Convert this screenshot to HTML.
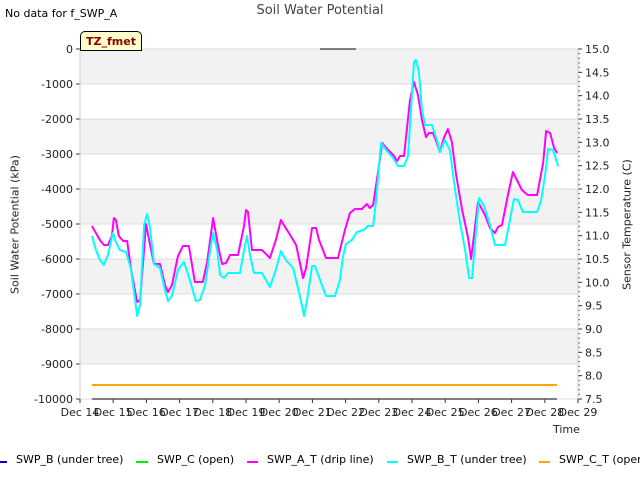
<!DOCTYPE html>
<html><head><meta charset="utf-8"><style>
body{margin:0;background:#fff;font-family:"DejaVu Sans","Liberation Sans",sans-serif}
svg text{font-family:"DejaVu Sans","Liberation Sans",sans-serif}
.lg{position:absolute;height:2px;top:461px}
.lt{position:absolute;top:453px;font-size:11px;color:#000;white-space:nowrap}
</style></head><body>
<svg id="c" width="640" height="480"></svg>
<script>
const dayLabels=["Dec 14","Dec 15","Dec 16","Dec 17","Dec 18","Dec 19","Dec 20","Dec 21","Dec 22","Dec 23","Dec 24","Dec 25","Dec 26","Dec 27","Dec 28","Dec 29"];
const leftTicks=[0,-1000,-2000,-3000,-4000,-5000,-6000,-7000,-8000,-9000,-10000];
const rightTicks=[15.0,14.5,14.0,13.5,13.0,12.5,12.0,11.5,11.0,10.5,10.0,9.5,9.0,8.5,8.0,7.5];
const aDays=[0.36,0.60,0.72,0.84,0.96,1.02,1.08,1.17,1.30,1.42,1.54,1.72,1.81,1.99,2.11,2.23,2.41,2.56,2.65,2.77,2.95,3.10,3.28,3.46,3.70,3.83,4.01,4.16,4.28,4.40,4.52,4.76,4.94,5.00,5.06,5.18,5.48,5.72,5.90,6.05,6.14,6.33,6.51,6.72,6.81,6.99,7.11,7.20,7.41,7.77,7.98,8.13,8.28,8.49,8.64,8.73,8.83,9.04,9.10,9.28,9.46,9.55,9.64,9.76,9.94,10.06,10.18,10.30,10.42,10.51,10.63,10.75,10.84,10.96,11.08,11.20,11.33,11.51,11.69,11.78,11.90,11.99,12.20,12.35,12.50,12.59,12.71,12.89,13.04,13.16,13.31,13.49,13.77,13.95,14.04,14.16,14.28,14.37];
const aVals=[-5057,-5457,-5600,-5600,-5343,-4829,-4886,-5343,-5486,-5486,-6314,-7229,-7171,-5000,-5600,-6143,-6143,-6743,-6943,-6743,-5914,-5629,-5629,-6657,-6657,-6086,-4829,-5629,-6143,-6114,-5886,-5886,-5057,-4600,-4657,-5743,-5743,-5971,-5457,-4886,-5029,-5314,-5600,-6543,-6257,-5114,-5114,-5457,-5971,-5971,-5171,-4686,-4571,-4571,-4429,-4543,-4457,-3114,-2686,-2886,-3057,-3200,-3057,-3057,-1457,-943,-1314,-2029,-2514,-2400,-2400,-2686,-2943,-2543,-2286,-2657,-3600,-4600,-5400,-6000,-5057,-4371,-4743,-5114,-5257,-5086,-5029,-4171,-3514,-3743,-4029,-4171,-4171,-3257,-2343,-2400,-2829,-2971];
const bDays=[0.36,0.48,0.60,0.72,0.84,0.99,1.08,1.20,1.39,1.54,1.66,1.72,1.81,1.93,2.02,2.11,2.23,2.41,2.56,2.65,2.77,2.95,3.13,3.31,3.49,3.61,3.77,3.92,4.01,4.13,4.22,4.34,4.46,4.82,4.94,5.03,5.12,5.24,5.48,5.72,5.90,6.05,6.20,6.42,6.63,6.75,6.84,6.99,7.08,7.23,7.41,7.68,7.83,7.92,8.01,8.19,8.34,8.55,8.67,8.83,8.92,9.01,9.07,9.22,9.43,9.58,9.76,9.88,9.97,10.06,10.12,10.21,10.30,10.39,10.60,10.75,10.84,10.99,11.14,11.30,11.45,11.60,11.72,11.81,11.93,12.02,12.17,12.35,12.50,12.80,12.95,13.07,13.19,13.34,13.77,13.89,14.01,14.10,14.25,14.40];
const bVals=[-5343,-5743,-6029,-6171,-5886,-5257,-5514,-5743,-5800,-6314,-7171,-7629,-7314,-5029,-4714,-5114,-6143,-6257,-6886,-7200,-7057,-6314,-6086,-6600,-7200,-7171,-6743,-5743,-5257,-5743,-6457,-6543,-6400,-6400,-5743,-5343,-5886,-6400,-6400,-6800,-6314,-5771,-6029,-6257,-7086,-7629,-7171,-6200,-6200,-6600,-7057,-7057,-6600,-5943,-5571,-5457,-5229,-5171,-5057,-5057,-4314,-3314,-2686,-2886,-3114,-3343,-3343,-3057,-1743,-371,-314,-657,-1743,-2171,-2171,-2600,-2943,-2600,-2886,-4029,-4971,-5743,-6543,-6543,-5171,-4257,-4486,-5029,-5600,-5600,-4886,-4286,-4314,-4657,-4657,-4314,-3600,-2857,-2886,-3343];
const cTempDays=[0.36,14.37];
const cTempVals=[7.8,7.8];
const bSwpDays=[0.36,14.37];
const bSwpVals=[-10000,-10000];

const X0=80,X1=578,Y0=49,Y1=399;
const xs=d=>X0+d*(X1-X0)/15;
const ys=v=>Y0+(0-v)*(Y1-Y0)/10000;
const yr=t=>Y0+(15-t)*(Y1-Y0)/7.5;
const svg=document.getElementById('c');
const NS='http://www.w3.org/2000/svg';
function mk(tag,at,parent){const e=document.createElementNS(NS,tag);for(const k in at)e.setAttribute(k,at[k]);(parent||svg).appendChild(e);return e;}
const bg=mk('rect',{x:X0,y:Y0,width:X1-X0,height:Y1-Y0,fill:'#fff'});


for(let i=0;i<10;i+=2){
 const b=mk('rect',{x:X0,y:ys(-i*1000),width:X1-X0,height:ys(-(i+1)*1000)-ys(-i*1000),fill:'#f2f2f2'});
 
 
}
leftTicks.forEach(v=>{
 const g=mk('line',{x1:X0,x2:X1,y1:ys(v),y2:ys(v),stroke:'#dcdcdc','stroke-width':1});
 
 
 mk('line',{x1:X0-4,x2:X0,y1:ys(v),y2:ys(v),stroke:'#333'});
 const t=mk('text',{x:X0-7,y:ys(v)+4,'text-anchor':'end','font-size':11,fill:'#222'});
 t.textContent=v;
 
 
});
dayLabels.forEach((l,i)=>{
 mk('line',{x1:xs(i),x2:xs(i),y1:Y1,y2:Y1+4,stroke:'#333'});
 const t=mk('text',{x:xs(i),y:Y1+17,'text-anchor':'middle','font-size':11,fill:'#222'});
 t.textContent=l;
 
 
});
rightTicks.forEach(v=>{
 mk('line',{x1:X1,x2:X1+4,y1:yr(v),y2:yr(v),stroke:'#333'});
 const t=mk('text',{x:X1+7,y:yr(v)+4,'font-size':11,fill:'#222'});
 t.textContent=v.toFixed(1);
 
 
});
for(let v=7.5;v<=15.001;v+=0.1){mk('line',{x1:X1,x2:X1+2,y1:yr(v),y2:yr(v),stroke:'#333','stroke-width':0.8});}
mk('line',{x1:X0,x2:X0,y1:Y0,y2:Y1,stroke:'#ccc'});
mk('line',{x1:X1,x2:X1,y1:Y0,y2:Y1,stroke:'#ccc'});
function line(dx,dy,fx,fy,col,name,w){
 const p=mk('polyline',{points:dx.map((d,i)=>xs(d)+','+fy(dy[i])).join(' '),fill:'none',stroke:col,'stroke-width':w||2,'stroke-linejoin':'round'});
 
 
}
line(bSwpDays,bSwpVals,xs,ys,'#555','swp-b-line',1.5);
line(cTempDays,cTempVals,xs,yr,'#ffa500','swp-c-t-line',2);
line(aDays,aVals,xs,ys,'#ff00ff','swp-a-t-line',2);
line(bDays,bVals,xs,ys,'#00ffff','swp-b-t-line',2);
mk('line',{x1:320,x2:356,y1:Y0,y2:Y0,stroke:'#000','stroke-width':1});
</script>
<div style="position:absolute;left:0;top:0;width:640px;height:480px;pointer-events:none">
<div style="position:absolute;left:5px;top:7px;font-size:11px;color:#000">No data for f_SWP_A</div>
<div style="position:absolute;left:0;width:640px;top:3px;text-align:center;font-size:13px;color:#444">Soil Water Potential</div>
<div style="position:absolute;left:80px;top:31px;width:60px;height:18px;background:#ffffcc;border:1px solid #000;border-radius:5px 5px 0 0;font-size:11px;font-weight:bold;color:#8b0000;text-align:center;line-height:19px">TZ_fmet</div>
<div style="position:absolute;left:-85px;top:218px;width:200px;text-align:center;transform:rotate(-90deg);font-size:11px;color:#222">Soil Water Potential (kPa)</div>
<div style="position:absolute;left:527px;top:218px;width:200px;text-align:center;transform:rotate(-90deg);font-size:11px;color:#222">Sensor Temperature (C)</div>
<div style="position:absolute;left:553px;top:423px;font-size:11px;color:#222">Time</div>
<div>
<div class="lg" style="left:0;width:7px;background:#0000cc"></div>
<div class="lt" style="left:16px">SWP_B (under tree)</div>
<div class="lg" style="left:136px;width:12px;background:#00ee00"></div>
<div class="lt" style="left:157px">SWP_C (open)</div>
<div class="lg" style="left:247px;width:11px;background:#ff00ff"></div>
<div class="lt" style="left:267px">SWP_A_T (drip line)</div>
<div class="lg" style="left:387px;width:11px;background:#00ffff"></div>
<div class="lt" style="left:407px">SWP_B_T (under tree)</div>
<div class="lg" style="left:539px;width:11px;background:#ffa500"></div>
<div class="lt" style="left:559px">SWP_C_T (open)</div>
</div>
</div>
</body></html>
